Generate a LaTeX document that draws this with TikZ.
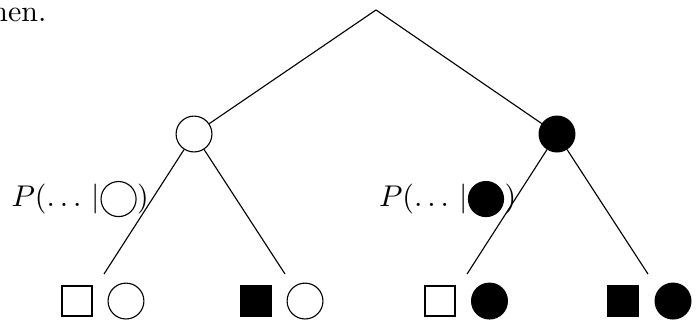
\documentclass[tikz,border=0pt]{standalone}
\usepackage{fix-cm}
\usepackage{amsmath}
\usepackage{tikz}
\usetikzlibrary{positioning}

\begin{document}
\begin{tikzpicture}[font=\fontsize{10.7}{13}\selectfont,
    wcirc/.style={circle, draw, fill=white, minimum size=0.45cm, inner sep=0pt},
    bcirc/.style={circle, draw, fill=black, minimum size=0.45cm, inner sep=0pt},
    lcirc/.style={circle, draw, minimum size=0.44cm, inner sep=0pt},
    wsq/.style={rectangle, draw, thick, fill=white, minimum size=0.37cm, inner sep=0pt},
    bsq/.style={rectangle, draw, thick, fill=black, minimum size=0.37cm, inner sep=0pt}]
    \useasboundingbox (0, 0) rectangle (8.772, 4.016);
    \node [anchor=base east, inner sep=0pt] (txt) at (0.590, 3.752) {nen.};
    \coordinate (root) at (4.719, 3.891);
    \node [wcirc] (lc) at (2.435, 2.334) {};
    \node [bcirc] (rc) at (6.990, 2.334) {};
    \coordinate (t1) at (1.305, 0.577);
    \coordinate (t2) at (3.577, 0.577);
    \coordinate (t3) at (5.861, 0.577);
    \coordinate (t4) at (8.132, 0.577);
    \draw (root) -- (lc);
    \draw (root) -- (rc);
    \draw (lc) -- (t1);
    \draw (lc) -- (t2);
    \draw (rc) -- (t3);
    \draw (rc) -- (t4);
    \node [wsq] (s1) at (0.966, 0.238) {};
    \node [wcirc] (c1) at (1.581, 0.238) {};
    \node [bsq] (s2) at (3.213, 0.238) {};
    \node [wcirc] (c2) at (3.828, 0.238) {};
    \node [wsq] (s3) at (5.522, 0.238) {};
    \node [bcirc] (c3) at (6.143, 0.238) {};
    \node [bsq] (s4) at (7.819, 0.238) {};
    \node [bcirc] (c4) at (8.446, 0.238) {};
    \node [lcirc] (pc1) at (1.488, 1.518) {};
    \node [left=0pt of pc1, inner sep=0pt] (p1) {$P(\dots\,|$};
    \node [right=0pt of pc1, inner sep=0pt] (q1) {$)$};
    \node [lcirc, fill=black] (pc2) at (6.099, 1.518) {};
    \node [left=0pt of pc2, inner sep=0pt] (p2) {$P(\dots\,|$};
    \node [right=0pt of pc2, inner sep=0pt] (q2) {$)$};
\end{tikzpicture}
\end{document}
